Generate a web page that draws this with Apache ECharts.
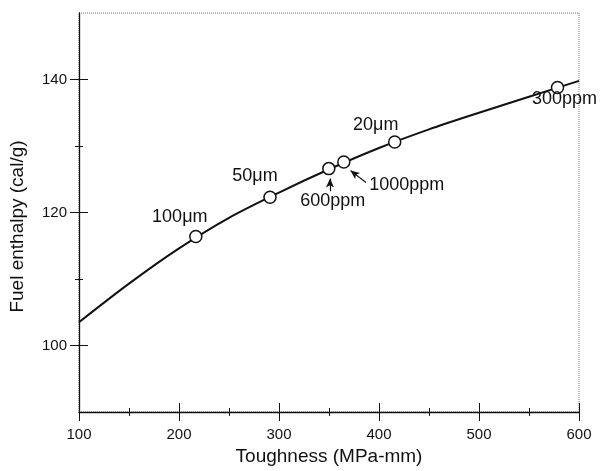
<!DOCTYPE html>
<html>
<head>
<meta charset="utf-8">
<script src="https://cdn.jsdelivr.net/npm/echarts@6/dist/echarts.min.js"></script>
<style>
  html, body { margin: 0; padding: 0; background: #fff; }
  #chart { width: 603px; height: 471px; }
</style>
</head>
<body>
<div id="chart"></div>
<script>
// fitted curve
const curveX = [100, 150, 200, 250, 300, 350, 400, 450, 500, 550, 600];
const curveY = [103.5, 109.3, 114.6, 119.2, 123.0, 126.5, 129.7, 132.5, 135.0, 137.4, 139.8];

// measured points
const pointNames = ["100\u03bcm", "50\u03bcm", "600ppm", "1000ppm", "20\u03bcm", "300ppm"];
const pointX = [216.8, 291, 349.8, 364.8, 415.7, 578.5];
const pointY = [116.4, 122.3, 126.6, 127.6, 130.6, 138.8];

// arrows pointing at the two close points (data coords)
const arrowFrom = [[351, 123.2], [387, 124.5]];
const arrowTo = [[351, 125.1], [371.5, 126.3]];

// ticks
const xMajor = [100, 200, 300, 400, 500, 600];
const xMinor = [150, 250, 350, 450, 550];
const yMajor = [100, 120, 140];
const yMinor = [110, 130];

// label offsets from point centres (px)
const labelOffsets = [[-16, -19], [-15, -21], [4, 32], [63, 23], [-19, -17], [7, 12]];

const font = "Liberation Sans, Arial, Helvetica, sans-serif";
const black = "#111";

const myChart = echarts.init(document.getElementById("chart"));

// tick-only axis, shifted into the plot so the tick crosses the axis line
function tickAxis(kind, values, half) {
  const ax = {
    type: "value",
    position: kind === "x" ? "bottom" : "left",
    offset: -half,
    axisLine: { show: false },
    axisTick: { show: true, inside: false, length: half * 2, customValues: values, lineStyle: { color: black, width: 1 } },
    axisLabel: { show: false },
    splitLine: { show: false }
  };
  if (kind === "x") Object.assign(ax, { min: 100, max: 600, interval: 100 });
  else Object.assign(ax, { min: 90, max: 150, interval: 10 });
  return ax;
}

myChart.setOption({
  animation: false,
  backgroundColor: "#fff",
  grid: {
    left: 78, right: 24, top: 13, bottom: 57,
    show: true, borderColor: "#777", borderWidth: 1, borderType: "dotted"
  },
  xAxis: [
    {
      type: "value", min: 100, max: 600, interval: 100, position: "bottom",
      axisLine: { show: true, lineStyle: { color: black, width: 1.3 } },
      axisTick: { show: false },
      axisLabel: { fontSize: 15, margin: 15, color: black, fontFamily: font },
      splitLine: { show: false },
      name: "Toughness (MPa-mm)", nameLocation: "middle", nameGap: 35,
      nameTextStyle: { fontSize: 19, color: black, fontFamily: font }
    },
    tickAxis("x", xMajor, 9),
    tickAxis("x", xMinor, 4)
  ],
  yAxis: [
    {
      type: "value", min: 90, max: 150, interval: 10, position: "left",
      axisLine: { show: true, lineStyle: { color: black, width: 1.3 } },
      axisTick: { show: false },
      axisLabel: { show: true, customValues: yMajor, fontSize: 15, margin: 12, color: black, fontFamily: font },
      splitLine: { show: false },
      name: "Fuel enthalpy (cal/g)", nameLocation: "middle", nameGap: 52,
      nameTextStyle: { fontSize: 19, color: black, fontFamily: font, padding: [0, 28, 0, 0] }
    },
    tickAxis("y", yMajor, 9),
    tickAxis("y", yMinor, 4)
  ],
  series: [
    {
      type: "line",
      data: curveX.map((x, i) => [x, curveY[i]]),
      smooth: 0.3,
      showSymbol: false,
      lineStyle: { color: black, width: 2 },
      z: 2
    },
    {
      type: "scatter",
      data: pointX.map((x, i) => ({
        name: pointNames[i],
        value: [x, pointY[i]],
        label: { offset: labelOffsets[i] }
      })),
      symbol: "circle",
      symbolSize: 12,
      itemStyle: { color: "#fff", borderColor: black, borderWidth: 1.5, opacity: 1 },
      label: {
        show: true, position: "inside", formatter: "{b}",
        fontSize: 18, color: black, fontFamily: font
      },
      markLine: {
        silent: true,
        symbol: ["none", "arrow"],
        symbolSize: [6, 9],
        label: { show: false },
        lineStyle: { color: black, width: 1.2, type: "solid" },
        data: arrowFrom.map((p, i) => [{ coord: p }, { coord: arrowTo[i] }])
      },
      z: 3
    }
  ]
});
</script>
</body>
</html>
